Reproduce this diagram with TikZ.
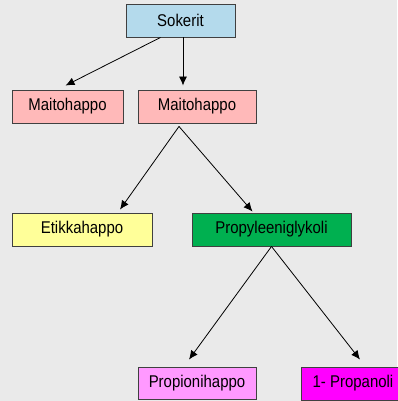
\documentclass[tikz,border=0pt]{standalone}
\usepackage{fontspec}
\setmainfont{Liberation Sans}[FakeStretch=0.88]
\usetikzlibrary{calc,arrows.meta}
\definecolor{bgray}{HTML}{EAEAEA}
\definecolor{sokblue}{HTML}{B4DAEC}
\definecolor{maitopink}{HTML}{FFB9B9}
\definecolor{etikyellow}{HTML}{FFFF99}
\definecolor{propgreen}{HTML}{00B050}
\definecolor{propipink}{HTML}{FF99FF}
\definecolor{propmag}{HTML}{FF00FF}
\begin{document}
\begin{tikzpicture}[x=1pt,y=-1pt,
  box/.style={draw=black!75,line width=0.9pt,inner sep=0pt,minimum height=33pt,
    font=\fontsize{17}{20}\selectfont},
  arr/.style={-{Latex[length=9pt,width=8pt]},line width=0.8pt}]
\fill[bgray] (0,0) rectangle (397,401);
\useasboundingbox (0,0) rectangle (397,401);

\node[box,fill=sokblue,minimum width=109pt] (sok) at (180.5,20.5) {Sokerit};
\node[box,fill=maitopink,minimum width=111pt] (mh1) at (67.5,106.5) {Maitohappo};
\node[box,fill=maitopink,minimum width=118pt] (mh2) at (197,106.5) {Maitohappo};
\node[box,fill=etikyellow,minimum width=140pt] (etik) at (82,229.5) {Etikkahappo};
\node[box,fill=propgreen,minimum width=159pt] (pgly) at (271.5,229.5) {Propyleeniglykoli};
\node[box,fill=propipink,minimum width=118pt,minimum height=32pt] (pion) at (197,383) {Propionihappo};
\node[box,fill=propmag,minimum width=104pt] (pnol) at (353,383.5) {1- Propanoli};

\draw[arr] ($(sok.south)+(-20,0)$) -- ($(mh1.north)+(-2,-4)$);
\draw[arr] ($(sok.south)+(2.5,0)$) -- ($(mh2.north)+(-14,-4)$);

\coordinate (split) at ($(mh2.south)+(-18,3)$);
\draw[arr] (split) -- ($(etik.north)+(38,-3)$);
\draw[arr] (split) -- ($(pgly.north)+(-19,-1)$);

\draw[arr] (pgly.south) -- ($(pion.north)+(-8,-7)$);
\draw[arr] (pgly.south) -- ($(pnol.north)+(7,-7)$);
\end{tikzpicture}
\end{document}
